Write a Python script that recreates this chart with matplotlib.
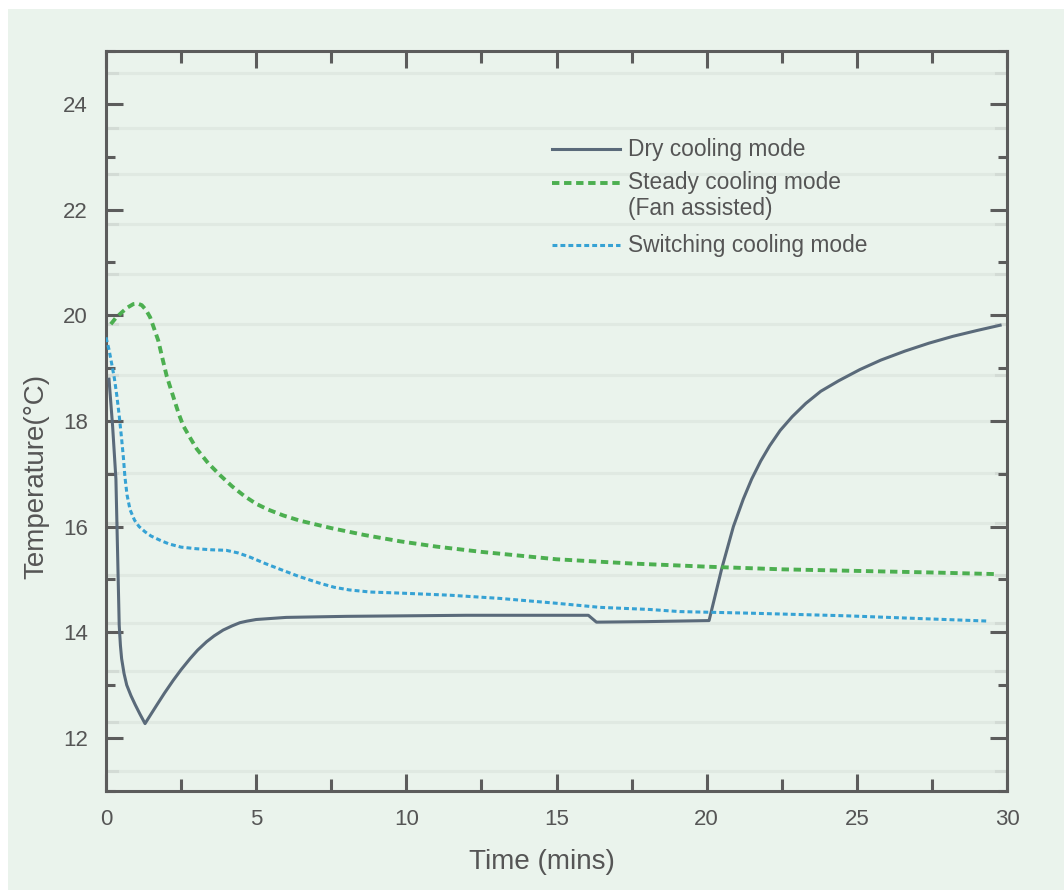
import matplotlib
matplotlib.use("Agg")
import matplotlib.pyplot as plt
from matplotlib.patches import Rectangle
from matplotlib.lines import Line2D
from matplotlib.ticker import MultipleLocator

# --- DATA ---
dry_time = [0.1, 0.22, 0.33, 0.39, 0.44, 0.48, 0.52, 0.6, 0.69, 0.83, 0.97, 1.13, 1.3,
            1.5, 1.69, 1.95, 2.24, 2.5, 2.8, 3.05, 3.35, 3.6, 3.9, 4.2, 4.46, 4.7, 5.0,
            5.5, 6.0, 8.0, 10.0, 12.0, 14.0, 16.06, 16.33, 18.0, 20.08, 20.5, 20.89,
            21.22, 21.5, 21.8, 22.1, 22.45, 22.85, 23.3, 23.8, 24.4, 25.1, 25.8,
            26.6, 27.4, 28.2, 29.0, 29.77]
dry_temp = [18.79, 17.9, 16.9, 15.4, 14.13, 13.75, 13.5, 13.22, 13.0, 12.8, 12.63, 12.45, 12.27,
            12.45, 12.62, 12.85, 13.09, 13.29, 13.5, 13.66, 13.82, 13.93, 14.04, 14.12, 14.18, 14.21, 14.24,
            14.26, 14.28, 14.3, 14.31, 14.32, 14.32, 14.32, 14.19, 14.2, 14.22, 15.2, 16.0,
            16.52, 16.9, 17.24, 17.53, 17.82, 18.08, 18.33, 18.56, 18.76, 18.97, 19.15,
            19.32, 19.47, 19.6, 19.71, 19.81]

steady_time = [0.16, 0.33, 0.52, 0.7, 0.91, 1.05, 1.19, 1.33, 1.47, 1.6, 1.74, 1.88, 2.02,
               2.16, 2.3, 2.43, 2.57, 2.8, 3.02, 3.4, 3.8, 4.2, 4.6, 5.0, 5.4, 5.9, 6.46, 7.5,
               8.6, 9.79, 11.0, 12.5, 15.0, 17.5, 20.0, 22.5, 25.0, 27.5, 29.6]
steady_temp = [19.83, 19.95, 20.05, 20.14, 20.21, 20.22, 20.19, 20.1, 19.96, 19.75, 19.52, 19.18, 18.85,
               18.6, 18.35, 18.12, 17.91, 17.68, 17.47, 17.2, 16.97, 16.76, 16.58, 16.43, 16.32, 16.21, 16.11, 15.97,
               15.84, 15.72, 15.62, 15.52, 15.38, 15.3, 15.24, 15.19, 15.16, 15.13, 15.1]

switch_time = [0.0, 0.1, 0.19, 0.28, 0.36, 0.44, 0.52, 0.58, 0.63, 0.7, 0.8, 0.95, 1.1,
               1.3, 1.5, 1.8, 2.1, 2.5, 3.0, 3.5, 4.0, 4.4, 4.8, 5.3, 5.8, 6.4, 7.1,
               7.6, 8.1, 8.8, 9.8, 11.45, 13.1, 14.95, 16.45, 18.1, 19.1, 21.44, 24.66, 27.0, 29.38]
switch_temp = [19.58, 19.35, 19.08, 18.8, 18.48, 18.1, 17.66, 17.3, 16.94, 16.6, 16.32, 16.12, 16.0,
               15.9, 15.82, 15.74, 15.67, 15.61, 15.58, 15.56, 15.55, 15.5, 15.42, 15.3, 15.19, 15.06, 14.93,
               14.85, 14.8, 14.76, 14.74, 14.7, 14.64, 14.55, 14.47, 14.43, 14.39, 14.36, 14.31, 14.26, 14.21]

grid_levels = [11.37, 12.30, 13.26, 14.17, 15.09, 16.06, 17.01, 17.99, 18.87, 19.83,
               20.77, 21.73, 22.67, 23.55, 24.58]

labels = ["Dry cooling mode", "Steady cooling mode", "(Fan assisted)", "Switching cooling mode"]

# --- STYLE ---
BG = "#eaf3ec"
TXT = "#555555"
SPINE = "#5c5c5c"
C_DRY = "#5a6a7a"
C_STEADY = "#4caf50"
C_SWITCH = "#36a2d4"
plt.rcParams['font.family'] = ['Liberation Sans', 'DejaVu Sans']

fig = plt.figure(figsize=(10.64, 8.90), dpi=100, facecolor="white")
fig.patches.append(Rectangle((8 / 1064, 0), 1 - 8 / 1064, 1 - 9 / 890,
                             transform=fig.transFigure, facecolor=BG, edgecolor="none", zorder=-10))

ax = fig.add_axes([106 / 1064, 99.3 / 890, 901 / 1064, 739.7 / 890])
ax.set_facecolor(BG)

# faint horizontal guide lines
for g in grid_levels:
    ax.axhline(g, color="#e0e9e2", lw=2.2, zorder=0)
    ax.axhline(g, xmin=0, xmax=0.012, color="#d3dbd5", lw=2.2, zorder=0)
    ax.axhline(g, xmin=0.988, xmax=1, color="#d3dbd5", lw=2.2, zorder=0)

ax.plot(dry_time, dry_temp, color=C_DRY, lw=2.2, zorder=3)
ax.plot(steady_time, steady_temp, color=C_STEADY, lw=2.8, linestyle=(0, (1.9, 1.2)), zorder=3)
ax.plot(switch_time, switch_temp, color=C_SWITCH, lw=2.2, linestyle=(0, (1.6, 1.0)), zorder=3)

ax.set_xlim(0, 30)
ax.set_ylim(11, 25)
ax.xaxis.set_major_locator(MultipleLocator(5))
ax.xaxis.set_minor_locator(MultipleLocator(2.5))
ax.yaxis.set_major_locator(MultipleLocator(2))
ax.yaxis.set_minor_locator(MultipleLocator(1))

for s in ax.spines.values():
    s.set_color(SPINE)
    s.set_linewidth(2.2)

ax.tick_params(which="both", direction="in", top=True, right=True, color=SPINE, width=2.2,
               labelcolor=TXT, labelsize=16, pad=13)
ax.tick_params(axis="x", which="major", length=12.2)
ax.tick_params(axis="x", which="minor", length=8.6)
ax.tick_params(axis="y", which="major", length=12.2)
ax.tick_params(axis="y", which="minor", length=6.5)

fig.text(542 / 1064, 1 - 862 / 890, "Time (mins)", color=TXT, fontsize=20, ha="center", va="center")
fig.text(36 / 1064, 1 - 476 / 890, "Temperature(°C)", color=TXT, fontsize=20, rotation=90,
         ha="center", va="center")

# legend drawn by hand so the two-line label keeps its handle on the first line
x0, x1, xt = 0.495, 0.570, 0.579
ax.add_line(Line2D([x0, x1], [0.8675, 0.8675], transform=ax.transAxes, color=C_DRY, lw=2.2))
ax.add_line(Line2D([x0, x1], [0.8222, 0.8222], transform=ax.transAxes, color=C_STEADY, lw=2.8,
                   linestyle=(0, (1.9, 1.2))))
ax.add_line(Line2D([x0, x1], [0.7377, 0.7377], transform=ax.transAxes, color=C_SWITCH, lw=2.2,
                   linestyle=(0, (1.6, 1.0))))
for y, lab in zip([0.8675, 0.8222, 0.7871, 0.7377], labels):
    ax.text(xt, y, lab, transform=ax.transAxes, color=TXT, fontsize=16.4, va="center", ha="left")

fig.savefig("out.png", dpi=100, facecolor=fig.get_facecolor())
